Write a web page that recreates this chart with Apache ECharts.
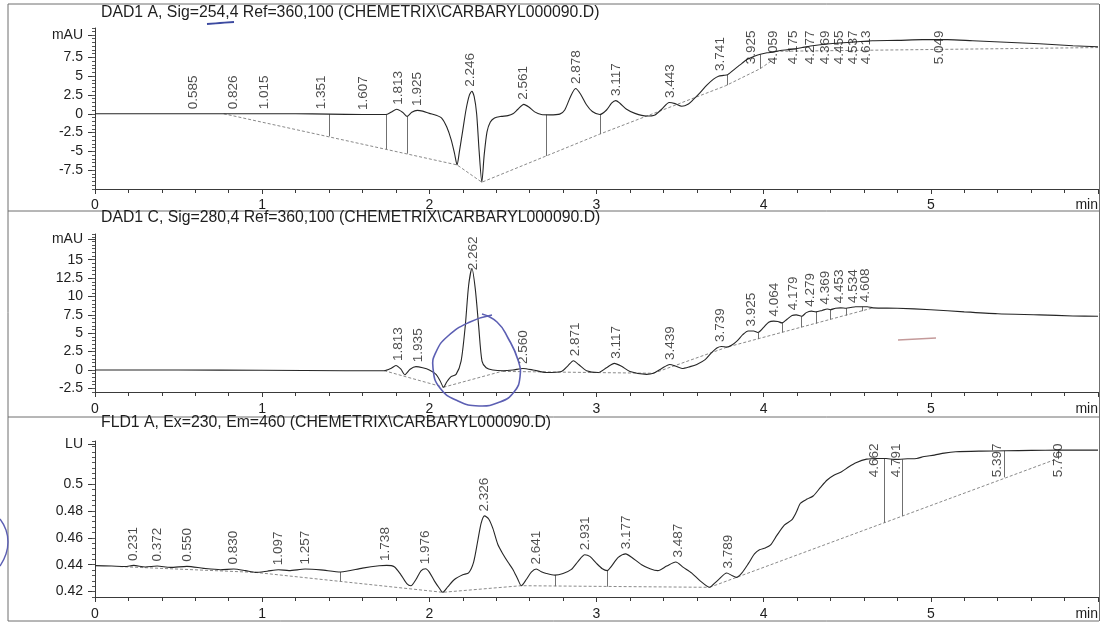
<!DOCTYPE html>
<html><head><meta charset="utf-8">
<script src="https://cdn.jsdelivr.net/npm/echarts@6/dist/echarts.min.js"></script>
<style>html,body{margin:0;padding:0;background:#fff}#c{width:1101px;height:626px}</style>
</head><body><div id="c"></div>
<script>
// ---------------- DATA ----------------
const titleA = 'DAD1 A, Sig=254,4 Ref=360,100 (CHEMETRIX\\CARBARYL000090.D)';
const titleC = 'DAD1 C, Sig=280,4 Ref=360,100 (CHEMETRIX\\CARBARYL000090.D)';
const titleF = 'FLD1 A, Ex=230, Em=460 (CHEMETRIX\\CARBARYL000090.D)';

const xTicks = [0, 1, 2, 3, 4, 5, 6];
const xUnit = 'min';

const yTicksA = [-7.5, -5, -2.5, 0, 2.5, 5, 7.5];
const yUnitA = 'mAU';
const yTicksC = [-2.5, 0, 2.5, 5, 7.5, 10, 12.5, 15];
const yUnitC = 'mAU';
const yTicksF = [0.42, 0.44, 0.46, 0.48, 0.5];
const yUnitF = 'LU';

// DAD1 A trace [min, mAU]
const traceA = [[0,0],[0.2,0],[0.4,0],[0.6,0],[0.77,0],[1.0,0],[1.2,0],[1.4,-0.05],[1.6,-0.1],[1.74,-0.1],
[1.77,0.2],[1.805,0.6],[1.84,0.2],[1.868,-0.35],[1.895,0.2],[1.928,0.45],[1.96,0.35],[2.0,0.05],[2.04,-0.2],[2.075,-0.6],
[2.105,-1.8],[2.13,-3.4],[2.15,-5.2],[2.166,-6.8],[2.18,-5.0],[2.2,-2.2],[2.22,0.6],[2.24,2.5],[2.254,3.0],[2.268,2.3],
[2.283,0],[2.298,-5.0],[2.314,-9.1],[2.328,-5.5],[2.345,-2.4],[2.365,-1.1],[2.39,-0.55],[2.43,-0.35],[2.47,-0.25],[2.5,0],
[2.53,0.6],[2.565,1.25],[2.595,0.9],[2.63,0.25],[2.67,-0.1],[2.72,-0.15],[2.78,-0.05],[2.81,0.5],[2.845,2.3],[2.875,3.35],
[2.905,2.6],[2.94,1.2],[2.975,0.3],[3.02,-0.1],[3.06,0.5],[3.09,1.4],[3.115,1.75],[3.14,1.4],[3.18,0.6],[3.23,0.05],
[3.3,-0.3],[3.35,-0.15],[3.39,0.6],[3.435,1.5],[3.47,1.35],[3.51,1.0],[3.55,1.3],[3.58,1.9],[3.62,2.8],[3.66,3.8],
[3.70,4.6],[3.73,5.0],[3.76,5.1],[3.785,5.2],[3.83,6.0],[3.87,6.7],[3.90,7.2],[3.94,7.6],[3.98,7.9],[4.02,8.1],
[4.06,8.2],[4.10,8.4],[4.14,8.5],[4.18,8.6],[4.23,8.8],[4.28,9.0],[4.35,9.2],[4.45,9.4],[4.55,9.55],[4.65,9.7],
[4.8,9.75],[4.95,9.85],[5.1,9.85],[5.25,9.7],[5.45,9.5],[5.65,9.3],[5.85,9.05],[6.0,8.9]];
const baselineA = [
  [[0.77,0],[2.166,-6.8],[2.314,-9.1],[3.02,-2.7],[3.77,3.7],[3.98,6.0],[4.07,7.4]],
  [[4.07,8.3],[6.0,8.8]]
];
const dropA = [[1.40,-0.05,-3.0],[1.745,-0.1,-4.7],[1.868,-0.35,-5.3],[2.70,-0.12,-5.6],[3.02,-0.1,-2.7],[3.785,5.2,3.8],[3.98,7.9,6.0]];
const rtA = ['0.585','0.826','1.015','1.351','1.607','1.813','1.925','2.246','2.561','2.878','3.117','3.443','3.741','3.925','4.059','4.175','4.277','4.369','4.455','4.537','4.613','5.049'];
const apexA = [0,0,0,0,-0.1,0.6,0.45,3.0,1.25,3.35,1.75,1.5,5.1,7.3,8.2,8.6,9.0,9.2,9.4,9.5,9.7,9.85];

// DAD1 C trace [min, mAU]
const traceC = [[0,0],[0.5,0],[1.0,-0.05],[1.5,-0.1],[1.73,-0.1],[1.77,0.2],[1.80,0.6],[1.83,0.1],[1.853,-0.65],[1.885,0.1],
[1.92,0.45],[1.96,0.3],[2.0,0],[2.04,-0.6],[2.065,-1.5],[2.085,-2.35],[2.105,-1.6],[2.13,-0.9],[2.16,-0.6],[2.19,1.2],
[2.215,6.0],[2.235,11.5],[2.255,13.8],[2.275,11.0],[2.295,6.0],[2.315,1.2],[2.34,0.3],[2.38,0],[2.44,-0.1],[2.5,0],
[2.56,0.2],[2.62,0],[2.70,-0.35],[2.79,-0.2],[2.83,0.6],[2.862,1.25],[2.895,0.7],[2.94,-0.1],[3.01,-0.35],[3.06,0.3],
[3.107,0.9],[3.15,0.5],[3.2,-0.2],[3.3,-0.6],[3.34,-0.45],[3.39,0.2],[3.438,0.75],[3.475,0.5],[3.512,0.2],[3.56,0.45],
[3.6,0.75],[3.65,1.4],[3.69,2.4],[3.72,3.0],[3.747,3.2],[3.78,3.1],[3.81,3.4],[3.843,4.0],[3.875,4.8],[3.907,5.3],
[3.94,5.3],[3.965,5.1],[4.0,5.8],[4.03,6.5],[4.06,6.65],[4.085,6.6],[4.11,6.4],[4.14,6.9],[4.17,7.4],[4.195,7.5],
[4.227,7.3],[4.255,7.8],[4.285,8.0],[4.313,7.9],[4.35,8.1],[4.38,8.3],[4.398,8.2],[4.43,8.4],[4.46,8.45],[4.494,8.4],
[4.52,8.5],[4.55,8.6],[4.59,8.6],[4.62,8.6],[4.654,8.45],[4.8,8.4],[5.0,8.2],[5.2,7.9],[5.4,7.65],[5.65,7.5],
[5.85,7.35],[6.0,7.3]];
const baselineC = [
  [[1.73,-0.1],[2.085,-2.35]],
  [[2.085,-2.35],[2.44,-0.15]],
  [[2.44,-0.2],[3.34,-0.45]],
  [[3.34,-0.45],[3.78,3.1],[4.654,8.45]]
];
const dropC = [[3.965,5.1,4.2],[4.11,6.4,5.1],[4.227,7.3,5.8],[4.313,7.9,6.3],[4.398,8.2,6.85],[4.494,8.4,7.4],[4.59,8.6,8.0]];
const rtC = ['1.813','1.935','2.262','2.560','2.871','3.117','3.439','3.739','3.925','4.064','4.179','4.279','4.369','4.453','4.534','4.608'];
const apexC = [0.6,0.45,13.8,0.2,1.25,0.9,0.75,3.2,5.3,6.65,7.5,8.0,8.3,8.45,8.5,8.6];

// FLD1 A trace [min, LU]
const traceF = [[0,0.4393],[0.1,0.4390],[0.18,0.4387],[0.231,0.4395],[0.30,0.4383],[0.372,0.439],[0.45,0.438],[0.55,0.4388],
[0.65,0.4373],[0.75,0.4363],[0.83,0.4368],[0.90,0.4356],[0.96,0.4343],[1.03,0.4352],[1.097,0.4363],[1.16,0.4356],[1.257,0.4368],
[1.35,0.4362],[1.47,0.4346],[1.60,0.4375],[1.70,0.4392],[1.745,0.4395],[1.79,0.4385],[1.83,0.4325],[1.865,0.426],[1.89,0.4244],
[1.92,0.429],[1.95,0.4355],[1.978,0.437],[2.0,0.4345],[2.03,0.428],[2.06,0.4225],[2.08,0.4195],[2.11,0.4235],[2.15,0.429],
[2.2,0.4325],[2.235,0.434],[2.265,0.442],[2.29,0.458],[2.31,0.471],[2.33,0.4763],[2.355,0.474],[2.38,0.467],[2.41,0.455],
[2.44,0.448],[2.47,0.442],[2.50,0.4365],[2.53,0.429],[2.55,0.4244],[2.58,0.429],[2.61,0.4345],[2.64,0.4368],[2.67,0.4348],
[2.70,0.4335],[2.75,0.4323],[2.80,0.4335],[2.85,0.4365],[2.89,0.4425],[2.93,0.4474],[2.96,0.4462],[3.0,0.441],[3.035,0.437],
[3.064,0.4356],[3.09,0.439],[3.13,0.4455],[3.175,0.4481],[3.21,0.4455],[3.27,0.44],[3.32,0.437],[3.367,0.4356],[3.42,0.439],
[3.474,0.442],[3.52,0.438],[3.57,0.4338],[3.62,0.428],[3.677,0.4232],[3.70,0.4255],[3.73,0.4289],[3.779,0.4338],[3.81,0.432],
[3.837,0.4306],[3.87,0.434],[3.91,0.4412],[3.945,0.448],[3.975,0.4511],[4.01,0.4525],[4.04,0.4545],[4.08,0.462],[4.125,0.4696],
[4.168,0.4733],[4.195,0.479],[4.22,0.4857],[4.26,0.4888],[4.296,0.4911],[4.34,0.4975],[4.38,0.503],[4.42,0.5065],[4.466,0.5091],
[4.51,0.5128],[4.552,0.5158],[4.616,0.5185],[4.68,0.519],[4.733,0.519],[4.78,0.5183],[4.808,0.5183],[4.86,0.5188],[4.915,0.519],
[4.96,0.5205],[5.021,0.5215],[5.08,0.523],[5.149,0.524],[5.3,0.5245],[5.448,0.5247],[5.6,0.525],[5.768,0.5252],[6.0,0.5252]];
const baselineF = [
  [[0.15,0.4386],[0.96,0.4343],[2.08,0.4195],[2.55,0.4244],[3.677,0.4232]],
  [[3.677,0.4232],[5.75,0.5185]]
];
const dropF = [[1.47,0.4346,0.4276],[2.755,0.4323,0.4240],[3.064,0.4356,0.4237],[4.72,0.519,0.4712],[4.83,0.5183,0.4763],[5.44,0.5247,0.5050],[5.76,0.5252,0.5185]];
const rtF = ['0.231','0.372','0.550','0.830','1.097','1.257','1.738','1.976','2.326','2.641','2.931','3.177','3.487','3.789','4.662','4.791','5.397','5.760'];
const apexF = [0.4395,0.439,0.4388,0.4368,0.4363,0.4368,0.4395,0.437,0.4763,0.4368,0.4474,0.4481,0.442,0.4338,0.519,0.5183,0.5247,0.5252];

// ---------------- LAYOUT / STYLE ----------------
const FONT = "'Liberation Sans', Arial, Helvetica, sans-serif";
const INK = '#1e1e1e';
const AXIS = '#3a3a3a';
const panels = [
  {title: titleA, titleTop: 5, trace: traceA, base: baselineA, drop: dropA, rt: rtA, apex: apexA,
   ticks: yTicksA, unit: yUnitA, unitVal: 10.5, top: 28, height: 161, min: -10, max: 11.4, minor: 0.5, xMargin: 9},
  {title: titleC, titleTop: 210, trace: traceC, base: baselineC, drop: dropC, rt: rtC, apex: apexC,
   ticks: yTicksC, unit: yUnitC, unitVal: 17.8, top: 234, height: 158, min: -3, max: 18.5, minor: 0.5, xMargin: 10},
  {title: titleF, titleTop: 415, trace: traceF, base: baselineF, drop: dropF, rt: rtF, apex: apexF,
   ticks: yTicksF, unit: yUnitF, unitVal: 0.5295, top: 441, height: 156, min: 0.416, max: 0.532, minor: 0.004, xMargin: 10}
];
const LABEL_LEN = 34; // px length of a rotated retention-time label

const option = {
  animation: false,
  backgroundColor: '#ffffff',
  title: [], grid: [], xAxis: [], yAxis: [], series: [],
  graphic: {elements: []}
};

panels.forEach((p, i) => {
  option.title.push({text: p.title, left: 101, top: p.titleTop, padding: 0,
    textStyle: {fontFamily: FONT, fontSize: 15.8, fontWeight: 'normal', color: INK}});
  option.grid.push({left: 95, right: 2, top: p.top, height: p.height, containLabel: false});
  option.xAxis.push({type: 'value', gridIndex: i, min: 0, max: 6, interval: 1,
    axisLine: {show: true, onZero: false, lineStyle: {color: AXIS, width: 1}},
    axisTick: {show: true, length: 5, lineStyle: {color: AXIS}},
    minorTick: {show: true, splitNumber: 5, length: 4, lineStyle: {color: AXIS}},
    splitLine: {show: false},
    axisLabel: {show: true, margin: p.xMargin, fontFamily: FONT, fontSize: 14, color: INK,
      showMaxLabel: true, showMinLabel: true, alignMaxLabel: 'right',
      formatter: v => (v === xTicks[xTicks.length - 1] ? xUnit : String(v))}});
  const labelVals = p.ticks.concat([p.unitVal]);
  option.yAxis.push({type: 'value', gridIndex: i, min: p.min, max: p.max, position: 'left',
    axisLine: {show: true, onZero: false, lineStyle: {color: AXIS, width: 1}},
    axisTick: {show: true, length: 7, customValues: labelVals, lineStyle: {color: AXIS}},
    splitLine: {show: false},
    axisLabel: {show: true, customValues: labelVals, margin: 12, fontFamily: FONT, fontSize: 14, color: INK,
      formatter: v => (Math.abs(v - p.unitVal) < 1e-9 ? p.unit : String(v))}});
  option.yAxis.push({type: 'value', gridIndex: i, min: p.min, max: p.max, interval: p.minor, position: 'left', offset: 0,
    axisLine: {show: false}, axisLabel: {show: false}, splitLine: {show: false},
    axisTick: {show: true, length: 3, lineStyle: {color: '#555'}}});
  const yi = 2 * i;
  option.series.push({type: 'lines', coordinateSystem: 'cartesian2d', xAxisIndex: i, yAxisIndex: yi,
    polyline: true, silent: true, z: 1,
    data: p.base.map(c => ({coords: c})),
    lineStyle: {color: '#8a8a8a', width: 1, type: [3, 2], opacity: 1}});
  option.series.push({type: 'lines', coordinateSystem: 'cartesian2d', xAxisIndex: i, yAxisIndex: yi,
    silent: true, z: 1,
    data: p.drop.map(d => ({coords: [[d[0], d[1]], [d[0], d[2]]]})),
    lineStyle: {color: '#707070', width: 1, opacity: 1}});
  option.series.push({type: 'line', xAxisIndex: i, yAxisIndex: yi, data: p.trace,
    showSymbol: false, symbol: 'none', smooth: 0.25, silent: true, z: 3,
    lineStyle: {color: '#262626', width: 1.1}});
  // retention-time labels
  const ppu = p.height / (p.max - p.min);
  const labelData = p.rt.map((s, k) => {
    const t = parseFloat(s);
    const h = p.apex[k];
    const yPix = p.top + (p.max - h) * ppu;
    const topPix = yPix - 4 - LABEL_LEN;
    if (topPix < p.top + 2) {
      return {name: s, value: [t, p.max], label: {position: 'bottom', distance: 2, align: 'right'}};
    }
    return {name: s, value: [t, h], label: {position: 'top', distance: 4, align: 'left'}};
  });
  option.series.push({type: 'scatter', xAxisIndex: i, yAxisIndex: yi, data: labelData, silent: true, z: 4,
    symbolSize: 1, itemStyle: {color: 'rgba(0,0,0,0)'},
    label: {show: true, formatter: '{b}', rotate: 90, verticalAlign: 'middle',
      fontFamily: FONT, fontSize: 13.5, color: INK}});
});

// frame lines of the printout and pen marks
const G = option.graphic.elements;
const frame = '#6f6f6f';
[[8,4,1099,4],[8,211,1099,211],[8,417,1099,417],[8,621,1099,621],[8,4,8,621],[1099.5,4,1099.5,621]].forEach(l => {
  G.push({type: 'line', silent: true, shape: {x1: l[0], y1: l[1], x2: l[2], y2: l[3]}, style: {stroke: frame, lineWidth: 1}});
});
G.push({type: 'polyline', silent: true, z: 10,
  shape: {smooth: 0.5, points: [[492,315],[470,322],[448,336],[436,352],[433,368],[440,388],[458,401],[479,406],[500,402],[514,392],[520,377],[518,360],[508,338],[497,322],[482,314]]},
  style: {stroke: '#5c5fb3', lineWidth: 1.6, fill: null}});
G.push({type: 'polyline', silent: true, z: 10,
  shape: {smooth: 0.4, points: [[207,24],[220,23],[234,22]]},
  style: {stroke: '#3c4aa0', lineWidth: 1.8, fill: null}});
G.push({type: 'polyline', silent: true, z: 10,
  shape: {smooth: 0.5, points: [[0,519],[6,530],[8,542],[6,554],[0,566]]},
  style: {stroke: '#5c5fb3', lineWidth: 1.4, fill: null}});
G.push({type: 'line', silent: true, z: 10, shape: {x1: 898, y1: 340, x2: 936, y2: 338},
  style: {stroke: '#c49a9a', lineWidth: 1.5}});

const chart = echarts.init(document.getElementById('c'), null, {renderer: 'canvas'});
chart.setOption(option);
</script></body></html>
